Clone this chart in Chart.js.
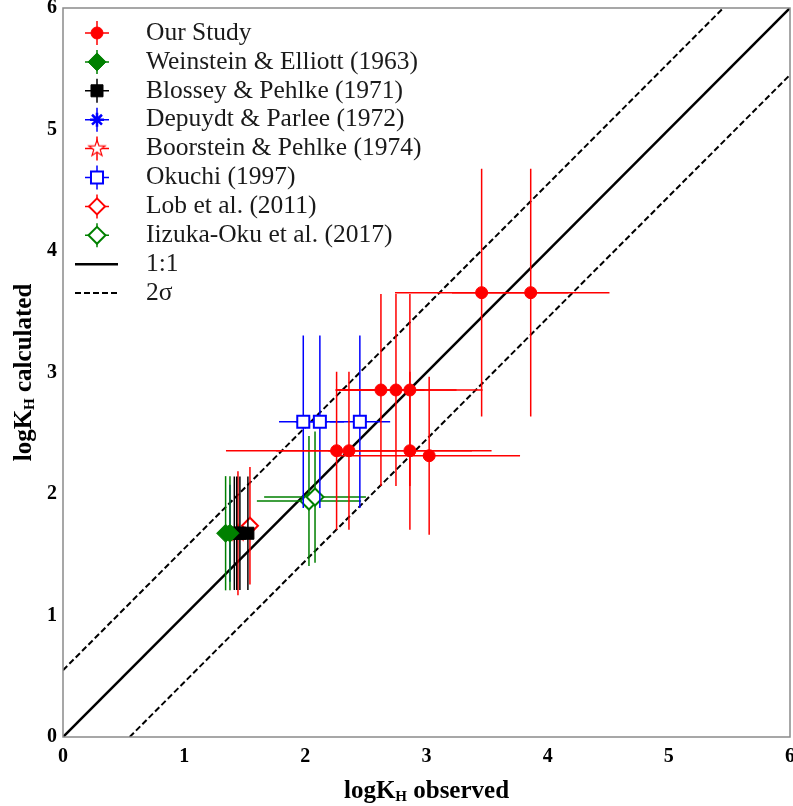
<!DOCTYPE html>
<html lang="en">
<head>
<meta charset="UTF-8">
<title>logKH observed vs calculated</title>
<script src="https://cdn.jsdelivr.net/npm/chart.js"></script>
<style>
  html, body { margin: 0; padding: 0; background: #fff; }
  #wrap { width: 793px; height: 806px; }
</style>
</head>
<body>
<div id="wrap"><canvas id="khChart" width="793" height="806"></canvas></div>
<script>
// rows: [logKH observed, logKH calculated, x error, y error]
const ourStudy = [
  [3.455, 3.657, 0.715, 1.02], [3.86, 3.657, 0.65, 1.02],
  [2.624, 2.856, 0.36, 0.79], [2.748, 2.856, 0.5, 0.79], [2.863, 2.856, 0.6, 0.79],
  [2.258, 2.356, 0.5, 0.65], [2.36, 2.356, 1.015, 0.65], [2.863, 2.356, 0.674, 0.65],
  [3.022, 2.315, 0.75, 0.65]
];
const weinstein = [[1.342, 1.677, 0, 0.47], [1.378, 1.677, 0, 0.47]];
const blossey = [[1.414, 1.677, 0, 0.467], [1.434, 1.677, 0, 0.467], [1.46, 1.677, 0, 0.467], [1.526, 1.677, 0, 0.467]];
const depuydt = [[1.378, 1.677, 0, 0.4]];
const boorstein = [[1.444, 1.677, 0, 0.51]];
const okuchi = [[1.983, 2.595, 0.2, 0.71], [2.12, 2.595, 0.2, 0.71], [2.45, 2.595, 0.25, 0.71]];
const lob = [[1.543, 1.739, 0, 0.483]];
const iizuka = [[2.03, 1.942, 0.43, 0.535], [2.08, 1.975, 0.42, 0.54]];

const oneToOne = [[0, 0], [6, 6]];
const sigmaUpper = [[0, 0.55], [5.45, 6]];
const sigmaLower = [[0.55, 0], [6, 5.45]];

const seriesLabels = ['Our Study', 'Weinstein & Elliott (1963)', 'Blossey & Pehlke (1971)',
  'Depuydt & Parlee (1972)', 'Boorstein & Pehlke (1974)', 'Okuchi (1997)',
  'Lob et al. (2011)', 'Iizuka-Oku et al. (2017)', '1:1', '2\u03c3'];
const axisTicks = [0, 1, 2, 3, 4, 5, 6];

const SERIF = '"Liberation Serif", "Times New Roman", serif';
const RED = '#ff0000', GREEN = '#008000', BLUE = '#0000ff', BLACK = '#000000';

// open five-point star marker
function starMarker(color) {
  const c = document.createElement('canvas');
  c.width = 22; c.height = 22;
  const g = c.getContext('2d');
  g.beginPath();
  for (let i = 0; i < 10; i++) {
    const r = i % 2 ? 3.4 : 8.5;
    const a = -Math.PI / 2 + i * Math.PI / 5;
    g.lineTo(11 + r * Math.cos(a), 11 + r * Math.sin(a));
  }
  g.closePath();
  g.fillStyle = '#fff'; g.fill();
  g.strokeStyle = color; g.lineWidth = 1.2; g.stroke();
  return c;
}

const pts = rows => rows.map(r => ({ x: r[0], y: r[1] }));
const errs = rows => rows.map(r => [r[2], r[3]]);

function markerSet(label, rows, color, style, radius, fill, bw) {
  return {
    label, data: pts(rows), errors: errs(rows),
    pointStyle: style, pointRadius: radius, pointHoverRadius: radius,
    backgroundColor: fill, borderColor: color, pointBorderWidth: bw,
    errorColor: color, showLine: false
  };
}
function lineSet(label, rows, width, dash) {
  return {
    label, data: pts(rows), showLine: true, pointRadius: 0,
    borderColor: BLACK, borderWidth: width, borderDash: dash, fill: false
  };
}

const datasets = [
  markerSet(seriesLabels[0], ourStudy, RED, 'circle', 6, RED, 1),
  markerSet(seriesLabels[1], weinstein, GREEN, 'rectRot', 9, GREEN, 1),
  markerSet(seriesLabels[2], blossey, BLACK, 'rect', 8.5, BLACK, 1),
  markerSet(seriesLabels[3], depuydt, BLUE, 'star', 7, BLUE, 2.5),
  markerSet(seriesLabels[4], boorstein, RED, starMarker(RED), 8, '#fff', 1.2),
  markerSet(seriesLabels[5], okuchi, BLUE, 'rect', 8.5, '#fff', 2),
  markerSet(seriesLabels[6], lob, RED, 'rectRot', 8, '#fff', 2),
  markerSet(seriesLabels[7], iizuka, GREEN, 'rectRot', 8.5, '#fff', 2),
  lineSet(seriesLabels[8], oneToOne, 2.5, []),
  lineSet(seriesLabels[9], sigmaUpper, 2, [6, 3]),
  lineSet('', sigmaLower, 2, [6, 3])
];

// error bars go under each dataset's own markers
const errorBars = {
  id: 'errorBars',
  beforeDatasetDraw(chart, args) {
    const ds = chart.data.datasets[args.index];
    if (!ds.errors) return;
    const { ctx, chartArea: a, scales: { x, y } } = chart;
    ctx.save();
    ctx.beginPath();
    ctx.rect(a.left, a.top, a.width, a.height);
    ctx.clip();
    ctx.strokeStyle = ds.errorColor;
    ctx.lineWidth = 1.5;
    ds.errors.forEach(([ex, ey], i) => {
      const p = ds.data[i];
      const px = x.getPixelForValue(p.x), py = y.getPixelForValue(p.y);
      ctx.beginPath();
      if (ex > 0) {
        ctx.moveTo(x.getPixelForValue(p.x - ex), py);
        ctx.lineTo(x.getPixelForValue(p.x + ex), py);
      }
      if (ey > 0) {
        ctx.moveTo(px, y.getPixelForValue(p.y - ey));
        ctx.lineTo(px, y.getPixelForValue(p.y + ey));
      }
      ctx.stroke();
    });
    ctx.restore();
  }
};

// text with a subscript part: [text, size, drop]
function drawParts(ctx, parts, x, y) {
  const widths = parts.map(([t, s]) => {
    ctx.font = 'bold ' + s + 'px ' + SERIF;
    return ctx.measureText(t).width;
  });
  let cx = x - widths.reduce((a, b) => a + b, 0) / 2;
  parts.forEach(([t, s, drop], i) => {
    ctx.font = 'bold ' + s + 'px ' + SERIF;
    ctx.fillText(t, cx, y + (drop || 0));
    cx += widths[i];
  });
}

const decorations = {
  id: 'decorations',
  afterDraw(chart) {
    const { ctx, chartArea: a } = chart;
    ctx.save();
    // plot frame
    ctx.strokeStyle = '#8a8a8a';
    ctx.lineWidth = 1.5;
    ctx.strokeRect(a.left, a.top, a.width, a.height);

    // axis titles
    ctx.fillStyle = '#000';
    ctx.textAlign = 'left';
    ctx.textBaseline = 'alphabetic';
    drawParts(ctx, [['logK', 25], ['H', 15, 3], [' observed', 25]], (a.left + a.right) / 2, 798);
    ctx.save();
    ctx.translate(31, (a.top + a.bottom) / 2);
    ctx.rotate(-Math.PI / 2);
    drawParts(ctx, [['logK', 25], ['H', 15, 3], [' calculated', 25]], 0, 0);
    ctx.restore();

    // legend inside the plot
    const mx = 97, tx = 146;
    chart.data.datasets.forEach((ds, i) => {
      if (!ds.label) return;
      const y = 33 + i * 28.9;
      if (ds.errors) {
        ctx.strokeStyle = ds.errorColor;
        ctx.lineWidth = 1.5;
        ctx.setLineDash([]);
        ctx.beginPath();
        ctx.moveTo(mx - 12, y); ctx.lineTo(mx + 12, y);
        ctx.moveTo(mx, y - 12); ctx.lineTo(mx, y + 12);
        ctx.stroke();
        ctx.fillStyle = ds.backgroundColor;
        ctx.strokeStyle = ds.borderColor;
        ctx.lineWidth = ds.pointBorderWidth;
        Chart.helpers.drawPoint(ctx, {
          pointStyle: ds.pointStyle, rotation: 0,
          radius: ds.pointRadius, borderWidth: ds.pointBorderWidth
        }, mx, y);
      } else {
        ctx.strokeStyle = ds.borderColor;
        ctx.lineWidth = ds.borderWidth;
        ctx.setLineDash(ds.borderDash);
        ctx.beginPath();
        ctx.moveTo(75, y); ctx.lineTo(118, y);
        ctx.stroke();
        ctx.setLineDash([]);
      }
      ctx.fillStyle = '#1a1a1a';
      ctx.font = '25.5px ' + SERIF;
      ctx.textBaseline = 'middle';
      ctx.fillText(ds.label, tx, y);
    });
    ctx.restore();
  }
};

const tickFont = { family: SERIF, size: 20, weight: 'bold' };

new Chart(document.getElementById('khChart'), {
  type: 'scatter',
  data: { datasets },
  options: {
    responsive: false,
    devicePixelRatio: 1,
    animation: false,
    layout: { autoPadding: false, padding: { top: 8, right: 3, left: 0, bottom: 0 } },
    plugins: { legend: { display: false }, tooltip: { enabled: false } },
    scales: {
      x: {
        type: 'linear', min: 0, max: 6,
        afterBuildTicks: s => { s.ticks = axisTicks.map(v => ({ value: v })); },
        afterFit: s => { s.height = 69; s.paddingLeft = 0; s.paddingRight = 0; },
        ticks: { font: tickFont, color: '#000', padding: 8 },
        grid: { display: false, drawTicks: false },
        border: { display: false }
      },
      y: {
        type: 'linear', min: 0, max: 6,
        afterBuildTicks: s => { s.ticks = axisTicks.map(v => ({ value: v })); },
        afterFit: s => { s.width = 63; s.paddingTop = 0; s.paddingBottom = 0; },
        ticks: { font: tickFont, color: '#000', padding: 6 },
        grid: { display: false, drawTicks: false },
        border: { display: false }
      }
    }
  },
  plugins: [errorBars, decorations]
});
</script>
</body>
</html>
